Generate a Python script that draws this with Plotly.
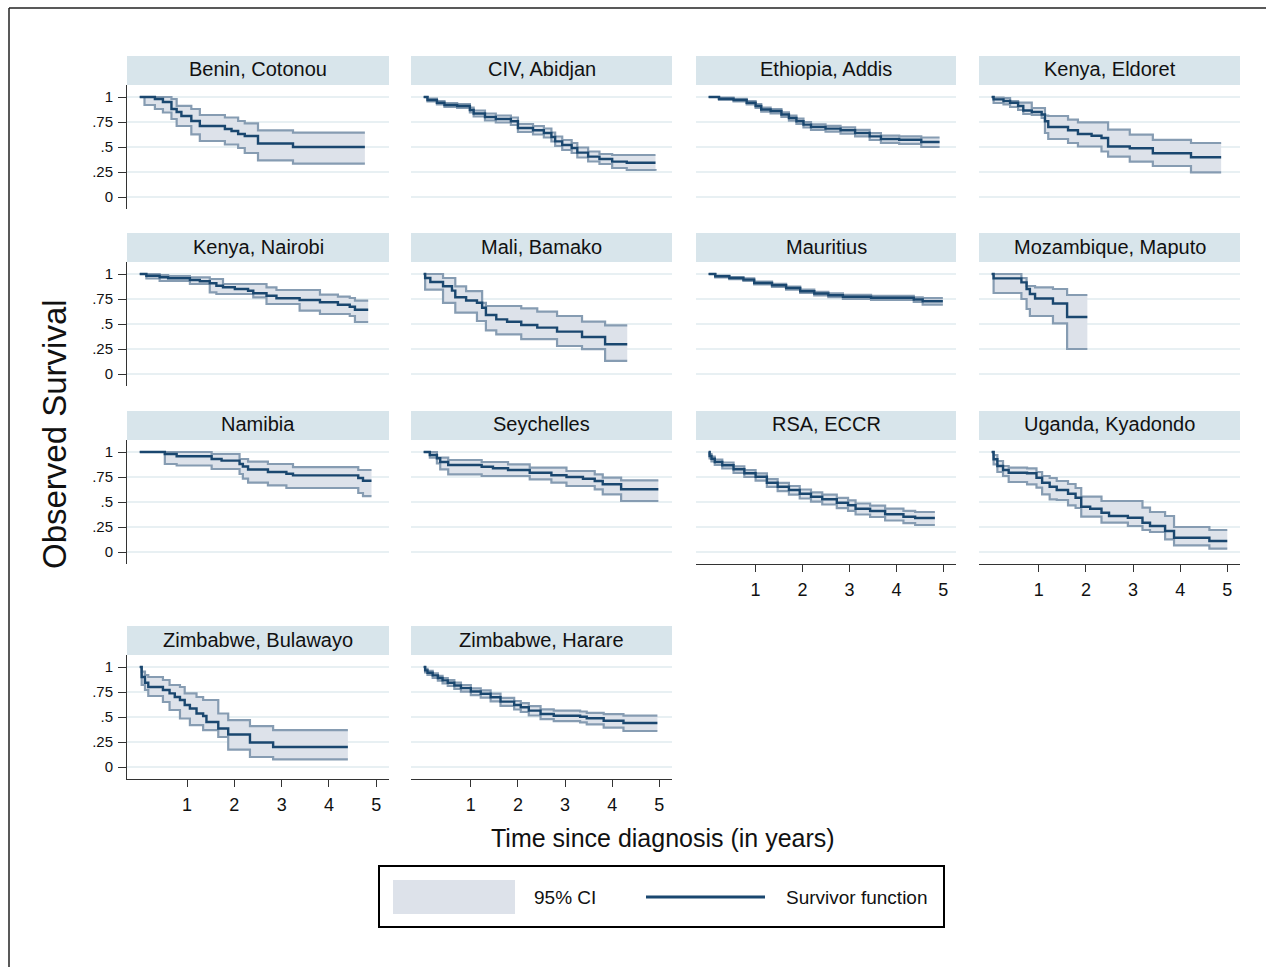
import plotly.graph_objects as go

# ---------------------------------------------------------------
# Kaplan-Meier observed survival by cancer registry
# time in years since diagnosis; s = survivor function,
# lo / hi = 95% confidence band
# ---------------------------------------------------------------
benin_t = [0, 0.1, 0.32, 0.49, 0.67, 0.78, 0.88, 1.09, 1.27, 1.80, 1.94, 2.08, 2.22, 2.50, 3.24, 4.76]
benin_s = [1, 1, .98, .95, .88, .85, .81, .76, .71, .68, .66, .63, .61, .535, .50, .50]
benin_hi = [1, 1, 1, 1, .98, .912, .912, .88, .82, .795, .795, .76, .737, .667, .643, .643]
benin_lo = [1, .92, .88, .845, .78, .71, .71, .626, .56, .525, .525, .49, .44, .367, .333, .333]

civ_t = [0, .08, .28, .44, .71, .98, 1.06, 1.30, 1.53, 1.85, 2.0, 2.32, 2.55, 2.71, 2.79, 2.94, 3.14, 3.26, 3.49, 3.73, 4.0, 4.31, 4.92]
civ_s = [1, .97, .943, .92, .91, .87, .835, .80, .78, .758, .69, .667, .64, .60, .556, .52, .49, .444, .404, .38, .354, .343, .343]
civ_hi = [1, .985, .96, .94, .93, .895, .865, .835, .815, .795, .73, .71, .685, .645, .605, .57, .54, .495, .455, .43, .42, .42, .42]
civ_lo = [1, .955, .925, .90, .89, .845, .805, .765, .745, .72, .65, .625, .595, .555, .51, .47, .44, .395, .355, .33, .29, .27, .263]

eth_t = [0, .22, .53, .81, 1.0, 1.12, 1.32, 1.55, 1.71, 1.87, 2.02, 2.18, 2.49, 2.81, 3.12, 3.43, 3.67, 4.06, 4.53, 4.92]
eth_s = [1, .983, .97, .943, .91, .875, .86, .825, .79, .758, .724, .70, .684, .667, .64, .606, .58, .572, .55, .55]
eth_hi = [1, .993, .982, .958, .928, .895, .88, .847, .814, .783, .75, .727, .712, .697, .671, .638, .614, .607, .595, .595]
eth_lo = [1, .971, .955, .925, .89, .853, .837, .80, .763, .73, .695, .67, .653, .634, .606, .57, .542, .532, .50, .50]

eld_t = [0, .04, .25, .39, .56, .67, .85, 1.06, 1.13, 1.20, 1.62, 1.83, 2.12, 2.33, 2.47, 2.93, 3.42, 4.23, 4.87]
eld_s = [1, .976, .96, .943, .91, .865, .85, .825, .758, .70, .667, .63, .613, .59, .505, .488, .438, .397, .397]
eld_hi = [1, .995, .99, .96, .943, .943, .89, .89, .815, .81, .774, .747, .747, .747, .673, .623, .572, .54, .54]
eld_lo = [1, .94, .926, .90, .87, .83, .82, .79, .64, .58, .54, .505, .505, .455, .404, .354, .31, .246, .246]

nai_t = [0, .14, .42, .60, 1.06, 1.27, 1.48, 1.62, 1.76, 2.01, 2.29, 2.40, 2.68, 2.89, 3.38, 3.81, 4.19, 4.44, 4.55, 4.83]
nai_s = [1, .983, .967, .957, .94, .927, .907, .883, .867, .85, .833, .807, .783, .757, .74, .717, .693, .673, .643, .643]
nai_hi = [1, 1, .99, .98, .967, .967, .95, .95, .90, .90, .90, .90, .867, .84, .84, .793, .773, .76, .733, .733]
nai_lo = [1, .955, .93, .93, .90, .90, .817, .80, .80, .80, .80, .767, .70, .70, .633, .60, .60, .58, .52, .52]

mali_t = [0, .03, .14, .41, .60, .67, .90, 1.13, 1.24, 1.32, 1.54, 1.77, 2.07, 2.41, 2.83, 3.36, 3.85, 4.32]
mali_s = [1, .96, .92, .877, .834, .768, .735, .712, .662, .59, .546, .523, .49, .464, .424, .37, .298, .298]
mali_hi = [1, 1, 1, .96, .96, .877, .828, .828, .712, .68, .68, .68, .656, .623, .58, .523, .487, .487]
mali_lo = [1, .844, .844, .712, .712, .613, .613, .53, .53, .437, .397, .397, .348, .348, .28, .248, .132, .132]

mau_t = [0, .14, .44, .74, .97, 1.35, 1.65, 1.95, 2.25, 2.55, 2.86, 3.46, 4.37, 4.56, 4.99]
mau_s = [1, .977, .96, .944, .91, .887, .86, .828, .805, .788, .772, .762, .745, .728, .728]
mau_hi = [1, .985, .97, .956, .923, .901, .875, .844, .822, .806, .791, .782, .767, .758, .758]
mau_lo = [1, .967, .948, .930, .895, .871, .843, .810, .786, .768, .751, .740, .720, .693, .693]

map_t = [0, .04, .63, .74, .81, .92, 1.30, 1.60, 2.03]
map_s = [1, .956, .916, .85, .80, .755, .705, .57, .57]
map_hi = [1, 1, .96, .88, .88, .866, .85, .79, .79]
map_lo = [1, .81, .75, .65, .58, .58, .507, .25, .25]

nam_t = [0, .53, .78, 1.52, 1.73, 2.11, 2.18, 2.29, 2.71, 3.10, 3.24, 4.62, 4.72, 4.90]
nam_s = [1, .98, .957, .93, .914, .88, .855, .825, .80, .782, .766, .74, .713, .713]
nam_hi = [1, 1, 1, .98, .98, .93, .93, .904, .88, .88, .848, .82, .82, .82]
nam_lo = [1, .88, .865, .83, .83, .78, .733, .693, .667, .64, .64, .59, .558, .558]

sey_t = [0, .13, .28, .35, .52, 1.23, 1.47, 1.79, 2.25, 2.71, 3.03, 3.38, 3.63, 3.80, 4.19, 4.98]
sey_s = [1, .97, .937, .90, .87, .853, .837, .82, .793, .767, .75, .733, .71, .677, .627, .627]
sey_hi = [1, 1, .943, .943, .92, .90, .90, .877, .843, .843, .81, .81, .777, .743, .717, .717]
sey_lo = [1, .943, .887, .827, .777, .76, .76, .76, .727, .693, .66, .66, .627, .577, .51, .51]

rsa_t = [0, .02, .06, .13, .29, .53, .76, 1.0, 1.24, 1.47, 1.71, 1.94, 2.18, 2.42, 2.73, 2.97, 3.13, 3.44, 3.76, 4.15, 4.40, 4.82]
rsa_s = [1, .96, .933, .90, .867, .827, .787, .753, .693, .653, .62, .583, .553, .527, .493, .467, .433, .41, .377, .353, .34, .34]
rsa_hi = [1, .98, .955, .925, .895, .857, .819, .787, .729, .691, .66, .625, .597, .573, .541, .517, .485, .464, .433, .411, .40, .40]
rsa_lo = [1, .935, .906, .87, .835, .792, .75, .713, .651, .609, .574, .535, .503, .475, .439, .411, .375, .35, .315, .288, .27, .27]

uga_t = [0, .04, .12, .24, .36, .75, .95, 1.07, 1.23, 1.38, 1.62, 1.78, 1.90, 2.09, 2.33, 2.49, 2.89, 3.20, 3.36, 3.68, 3.87, 4.62, 5.0]
uga_s = [1, .927, .86, .82, .793, .787, .743, .693, .653, .62, .583, .543, .453, .433, .393, .36, .343, .293, .26, .21, .143, .11, .11]
uga_hi = [1, .97, .91, .86, .843, .837, .80, .76, .74, .71, .68, .64, .553, .553, .51, .51, .51, .443, .40, .36, .25, .22, .22]
uga_lo = [1, .877, .80, .76, .70, .677, .643, .577, .527, .52, .467, .44, .353, .353, .293, .293, .26, .22, .20, .127, .067, .033, .033]

bul_t = [0, .04, .11, .18, .49, .63, .74, .85, .95, 1.06, 1.20, 1.34, 1.41, 1.66, 1.87, 2.33, 2.82, 4.40]
bul_s = [1, .90, .843, .80, .77, .736, .70, .67, .62, .585, .535, .51, .45, .385, .325, .245, .20, .20]
bul_hi = [1, .953, .92, .90, .87, .82, .82, .80, .736, .736, .70, .67, .67, .535, .468, .408, .368, .368]
bul_lo = [1, .82, .77, .71, .65, .57, .57, .485, .485, .418, .418, .368, .368, .30, .174, .10, .077, .077]

har_t = [0, .03, .08, .19, .30, .40, .51, .65, .79, 1.0, 1.21, 1.42, 1.63, 1.92, 2.06, 2.23, 2.48, 2.76, 3.32, 3.46, 3.82, 4.24, 4.96]
har_s = [1, .966, .943, .916, .89, .866, .842, .815, .789, .755, .732, .698, .654, .62, .597, .564, .53, .513, .503, .487, .463, .44, .44]
har_hi = [1, .981, .961, .936, .912, .89, .868, .843, .819, .787, .766, .734, .692, .66, .639, .608, .576, .563, .555, .541, .528, .513, .513]
har_lo = [1, .946, .921, .891, .863, .837, .811, .782, .754, .718, .693, .657, .611, .575, .55, .515, .479, .458, .446, .427, .393, .36, .36]

registry_names = [
    "Benin, Cotonou", "CIV, Abidjan", "Ethiopia, Addis", "Kenya, Eldoret",
    "Kenya, Nairobi", "Mali, Bamako", "Mauritius", "Mozambique, Maputo",
    "Namibia", "Seychelles", "RSA, ECCR", "Uganda, Kyadondo",
    "Zimbabwe, Bulawayo", "Zimbabwe, Harare",
]
x_tick_vals = [1, 2, 3, 4, 5]
y_tick_vals = [0, 0.25, 0.5, 0.75, 1]
y_tick_text = ["0", ".25", ".5", ".75", "1"]

series = [
    (benin_t, benin_s, benin_lo, benin_hi),
    (civ_t, civ_s, civ_lo, civ_hi),
    (eth_t, eth_s, eth_lo, eth_hi),
    (eld_t, eld_s, eld_lo, eld_hi),
    (nai_t, nai_s, nai_lo, nai_hi),
    (mali_t, mali_s, mali_lo, mali_hi),
    (mau_t, mau_s, mau_lo, mau_hi),
    (map_t, map_s, map_lo, map_hi),
    (nam_t, nam_s, nam_lo, nam_hi),
    (sey_t, sey_s, sey_lo, sey_hi),
    (rsa_t, rsa_s, rsa_lo, rsa_hi),
    (uga_t, uga_s, uga_lo, uga_hi),
    (bul_t, bul_s, bul_lo, bul_hi),
    (har_t, har_s, har_lo, har_hi),
]

# ---------------------------------------------------------------
# styling / geometry (pixels)
# ---------------------------------------------------------------
W, H = 1266, 967
FONT = "Liberation Sans, Arial, sans-serif"
NAVY = "#1a476f"
CI_EDGE = "#869cb2"
CI_FILL = "#dde2ea"
STRIP = "#d8e5eb"
GRID = "#e8f0f3"
AXIS = "#333333"

col_px = [(127, 389), (411, 672), (696, 956), (979, 1240)]
row_px = [(85, 209), (262, 386), (440, 564), (655, 779)]
STRIP_H = 29
# panels that carry a visible x axis (bottom of each column)
x_axis_panels = {10, 11, 12, 13}


def fx(p):
    return p / W


def fy(p):
    return 1 - p / H


fig = go.Figure()
shapes = []
annotations = []
layout_axes = {}

for i, (name, (t, s, lo, hi)) in enumerate(zip(registry_names, series)):
    r, c = divmod(i, 4)
    (x0, x1), (y0, y1) = col_px[c], row_px[r]
    xs = "x" if i == 0 else f"x{i + 1}"
    ys = "y" if i == 0 else f"y{i + 1}"
    xa = "xaxis" if i == 0 else f"xaxis{i + 1}"
    ya = "yaxis" if i == 0 else f"yaxis{i + 1}"
    show_x = i in x_axis_panels
    show_y = c == 0

    layout_axes[xa] = dict(
        domain=[fx(x0), fx(x1)], anchor=ys, range=[-0.27, 5.27],
        showgrid=False, zeroline=False,
        showline=show_x, linecolor=AXIS, linewidth=1,
        ticks="outside" if show_x else "", ticklen=7, tickcolor=AXIS, tickwidth=1,
        tickvals=x_tick_vals, showticklabels=show_x,
        tickfont=dict(family=FONT, size=18, color="#111"),
        ticklabelstandoff=2, fixedrange=True,
    )
    layout_axes[ya] = dict(
        domain=[fy(y1), fy(y0)], anchor=xs, range=[-0.12, 1.12],
        showgrid=True, gridcolor=GRID, gridwidth=2, zeroline=False,
        showline=show_y, linecolor=AXIS, linewidth=1,
        ticks="outside" if show_y else "", ticklen=8, tickcolor=AXIS, tickwidth=1,
        tickvals=y_tick_vals, ticktext=y_tick_text, showticklabels=show_y,
        tickfont=dict(family=FONT, size=15, color="#111"),
        ticklabelstandoff=2, fixedrange=True,
    )

    common = dict(xaxis=xs, yaxis=ys, mode="lines", showlegend=False, hoverinfo="skip")
    fig.add_trace(go.Scatter(x=t, y=lo, line=dict(color=CI_EDGE, width=2.2, shape="hv"), **common))
    fig.add_trace(go.Scatter(x=t, y=hi, fill="tonexty", fillcolor=CI_FILL,
                             line=dict(color=CI_EDGE, width=2.2, shape="hv"), **common))
    fig.add_trace(go.Scatter(x=t, y=s, line=dict(color=NAVY, width=2.4, shape="hv"), **common))

    # panel header strip
    shapes.append(dict(type="rect", xref="paper", yref="paper",
                       x0=fx(x0), x1=fx(x1), y0=fy(y0), y1=fy(y0 - STRIP_H),
                       fillcolor=STRIP, line=dict(width=0), layer="below"))
    annotations.append(dict(text=name, xref="paper", yref="paper",
                            x=fx((x0 + x1) / 2), y=fy(y0 - STRIP_H / 2 - 1),
                            xanchor="center", yanchor="middle", showarrow=False,
                            font=dict(family=FONT, size=20, color="#111")))

# outer frame (left and top edges)
shapes.append(dict(type="line", xref="paper", yref="paper",
                   x0=fx(9), x1=fx(9), y0=fy(8), y1=-0.05, line=dict(color="#222", width=1.5)))
shapes.append(dict(type="line", xref="paper", yref="paper",
                   x0=fx(9), x1=1.05, y0=fy(8), y1=fy(8), line=dict(color="#222", width=1.5)))

# axis titles
annotations.append(dict(text="Observed Survival", xref="paper", yref="paper",
                        x=fx(55), y=fy(434), textangle=-90, showarrow=False,
                        xanchor="center", yanchor="middle",
                        font=dict(family=FONT, size=33, color="#111")))
annotations.append(dict(text="Time since diagnosis (in years)", xref="paper", yref="paper",
                        x=fx(663), y=fy(838), showarrow=False,
                        xanchor="center", yanchor="middle",
                        font=dict(family=FONT, size=25, color="#111")))

# key
shapes.append(dict(type="rect", xref="paper", yref="paper",
                   x0=fx(379), x1=fx(944), y0=fy(927), y1=fy(866),
                   line=dict(color="#000", width=2), fillcolor="rgba(0,0,0,0)"))
shapes.append(dict(type="rect", xref="paper", yref="paper",
                   x0=fx(393), x1=fx(515), y0=fy(914), y1=fy(880),
                   line=dict(width=0), fillcolor=CI_FILL))
shapes.append(dict(type="line", xref="paper", yref="paper",
                   x0=fx(646), x1=fx(765), y0=fy(897), y1=fy(897),
                   line=dict(color=NAVY, width=3)))
annotations.append(dict(text="95% CI", xref="paper", yref="paper",
                        x=fx(532), y=fy(897), showarrow=False,
                        xanchor="left", yanchor="middle",
                        font=dict(family=FONT, size=19, color="#111")))
annotations.append(dict(text="Survivor function", xref="paper", yref="paper",
                        x=fx(784), y=fy(897), showarrow=False,
                        xanchor="left", yanchor="middle",
                        font=dict(family=FONT, size=19, color="#111")))

fig.update_layout(
    width=W, height=H, autosize=False,
    margin=dict(l=0, r=0, t=0, b=0, pad=0),
    paper_bgcolor="white", plot_bgcolor="white",
    shapes=shapes, annotations=annotations,
    **layout_axes,
)

fig.write_html("out.html", config={"displayModeBar": False})
